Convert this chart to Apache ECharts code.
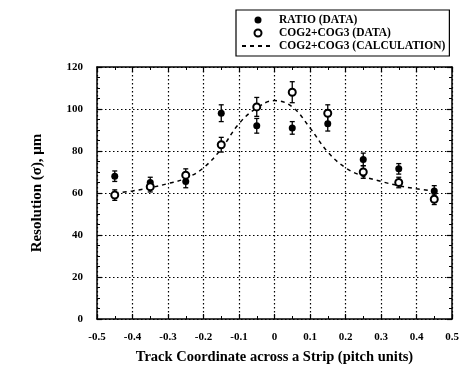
<!DOCTYPE html>
<html><head><meta charset="utf-8">
<script src="https://cdn.jsdelivr.net/npm/echarts@6/dist/echarts.min.js"></script>
<style>html,body{margin:0;padding:0;background:#fff}#c{width:460px;height:366px}</style>
</head><body><div id="c"></div>
<script>
var xPositions = [-0.45,-0.35,-0.25,-0.15,-0.05,0.05,0.15,0.25,0.35,0.45];
var ratio    = [68,65,65.5,98,92,91,93,76,71.5,61];
var ratioErr = [2.5,2.5,3,4,3.5,3,3.5,3,2.5,2.5];
var cog      = [59,63,68.5,83,101,108,98,70,65,57];
var cogErr   = [2.5,2.5,3,3.5,4.5,5,4,3,2.5,2.5];
var calcX    = [-0.45,-0.4,-0.35,-0.3,-0.25,-0.2,-0.15,-0.1,-0.05,0,0.05,0.1,0.15,0.2,0.25,0.3,0.35,0.4,0.45];
var calcY    = [60,61,62.5,64.5,67,72,81,93,100.5,104,101,91,79.5,72,68,65.5,63.5,62,61];
var xTicks   = [-0.5,-0.4,-0.3,-0.2,-0.1,0,0.1,0.2,0.3,0.4,0.5];
var yTicks   = [0,20,40,60,80,100,120];
var names    = ['RATIO (DATA)','COG2+COG3 (DATA)','COG2+COG3 (CALCULATION)'];

var serif = '"Liberation Serif","DejaVu Serif",serif';
function pairs(xs, ys){ return xs.map(function(x,i){return [x, ys[i]];}); }
function errData(vals, errs){ return xPositions.map(function(x,i){return [x, vals[i]-errs[i], vals[i]+errs[i]];}); }
function errRender(params, api){
  var lo = api.coord([api.value(0), api.value(1)]);
  var hi = api.coord([api.value(0), api.value(2)]);
  var w = 2.5;
  var st = {stroke:'#000', lineWidth:1.3};
  return {type:'group', children:[
    {type:'line', shape:{x1:lo[0],y1:lo[1],x2:hi[0],y2:hi[1]}, style:st},
    {type:'line', shape:{x1:lo[0]-w,y1:lo[1],x2:lo[0]+w,y2:lo[1]}, style:st},
    {type:'line', shape:{x1:hi[0]-w,y1:hi[1],x2:hi[0]+w,y2:hi[1]}, style:st}
  ]};
}
function fmtX(v){ var r = Math.round(v*10)/10; if (r===0) return '0'; return r.toFixed(1); }

var chart = echarts.init(document.getElementById('c'), null, {renderer:'canvas'});
var tickLab = {color:'#000', fontFamily:serif, fontWeight:'bold', fontSize:11};
chart.setOption({
  animation:false,
  backgroundColor:'#fff',
  grid:{left:97, right:8, top:67, bottom:47, containLabel:false, outerBoundsMode:'none'},
  legend:{
    orient:'vertical', left:236, top:10,
    padding:[4,4,4,5], itemGap:1, itemWidth:32, itemHeight:7,
    borderColor:'#000', borderWidth:1.2,
    textStyle:{color:'#000', fontFamily:serif, fontWeight:'bold', fontSize:11.5},
    data:[
      {name:names[0], icon:'circle'},
      {name:names[1], icon:'emptyCircle'},
      {name:names[2], itemStyle:{opacity:0}}
    ]
  },
  xAxis:[{
    type:'value', min:-0.5, max:0.5, interval:0.1,
    name:'Track Coordinate across a Strip (pitch units)', nameLocation:'middle', nameGap:31,
    nameTextStyle:{color:'#000', fontFamily:serif, fontWeight:'bold', fontSize:14.5},
    axisLine:{show:true, onZero:false, lineStyle:{color:'#000', width:1.5}},
    axisTick:{show:true, inside:true, length:5, lineStyle:{color:'#000', width:1.2}},
    minorTick:{show:true, splitNumber:2, length:3, lineStyle:{color:'#000', width:1}},
    splitLine:{show:true, lineStyle:{color:'#000', width:1.2, type:[1.5,2.5]}},
    axisLabel:Object.assign({margin:13, formatter:fmtX}, tickLab)
  },{
    type:'value', position:'top', min:-0.5, max:0.5, interval:0.1,
    axisLine:{show:true, onZero:false, lineStyle:{color:'#000', width:1.5}},
    axisTick:{show:true, inside:true, length:5, lineStyle:{color:'#000', width:1.2}},
    minorTick:{show:true, splitNumber:2, length:3, lineStyle:{color:'#000', width:1}},
    splitLine:{show:false}, axisLabel:{show:false}
  }],
  yAxis:[{
    type:'value', min:0, max:120, interval:20,
    name:'Resolution (σ), μm', nameLocation:'middle', nameGap:52, nameRotate:90,
    nameTextStyle:{color:'#000', fontFamily:serif, fontWeight:'bold', fontSize:15},
    axisLine:{show:true, onZero:false, lineStyle:{color:'#000', width:1.5}},
    axisTick:{show:true, inside:true, length:5, lineStyle:{color:'#000', width:1.2}},
    minorTick:{show:true, splitNumber:4, length:3, lineStyle:{color:'#000', width:1}},
    splitLine:{show:true, lineStyle:{color:'#000', width:1.2, type:[1.5,2.5]}},
    axisLabel:Object.assign({margin:14}, tickLab)
  },{
    type:'value', position:'right', min:0, max:120, interval:20,
    axisLine:{show:true, onZero:false, lineStyle:{color:'#000', width:1.5}},
    axisTick:{show:true, inside:true, length:5, lineStyle:{color:'#000', width:1.2}},
    minorTick:{show:true, splitNumber:4, length:3, lineStyle:{color:'#000', width:1}},
    splitLine:{show:false}, axisLabel:{show:false}
  }],
  series:[
    {name:names[2], type:'line', smooth:0.4, symbol:'none', data:pairs(calcX, calcY),
     lineStyle:{color:'#000', width:1.5, type:[4,4]}, itemStyle:{color:'#000'}, z:2},
    {name:'ratioErr', type:'custom', renderItem:errRender, data:errData(ratio, ratioErr), z:3},
    {name:'cogErr', type:'custom', renderItem:errRender, data:errData(cog, cogErr), z:3},
    {name:names[0], type:'scatter', symbol:'circle', symbolSize:7, data:pairs(xPositions, ratio),
     itemStyle:{color:'#000', opacity:1}, z:4},
    {name:names[1], type:'scatter', symbol:'emptyCircle', symbolSize:7, data:pairs(xPositions, cog),
     itemStyle:{color:'#000', borderColor:'#000', borderWidth:1.8, opacity:1}, z:4}
  ]
});
</script></body></html>
